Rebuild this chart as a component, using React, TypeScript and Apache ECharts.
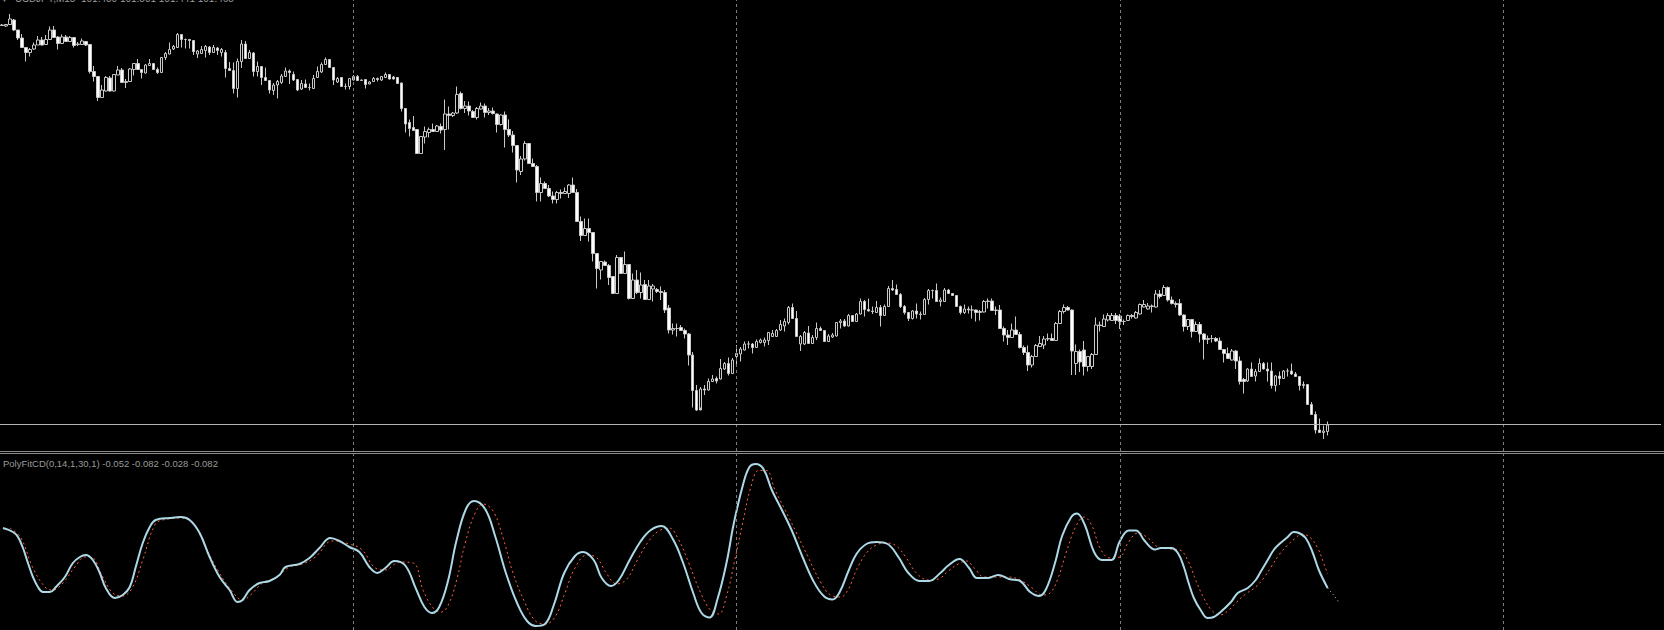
import React, { useEffect, useRef } from 'react';
import * as echarts from 'echarts';

// USDJPY M15 candles (open, close, low, high)
const opens = [
103.4625,103.46,103.4675,103.49,103.44,103.40,103.3525,103.3275,103.345,103.365,
103.39,103.3675,103.3925,103.44,103.405,103.3725,103.405,103.3825,103.4025,103.3675,
103.3675,103.3825,103.3675,103.2325,103.2075,103.1025,103.135,103.20,103.135,103.215,
103.24,103.1775,103.1825,103.2425,103.2725,103.2425,103.225,103.2625,103.2725,103.2425,
103.2275,103.3025,103.32,103.345,103.3525,103.4175,103.3925,103.3925,103.3875,103.32,
103.3225,103.3375,103.355,103.3275,103.35,103.3275,103.3275,103.2475,103.2375,103.1475,
103.2825,103.37,103.2975,103.325,103.2325,103.2575,103.2025,103.1875,103.1375,103.165,
103.1775,103.2075,103.235,103.2175,103.1925,103.145,103.17,103.1525,103.1475,103.2025,
103.23,103.2675,103.2925,103.2525,103.18,103.2025,103.1575,103.1575,103.19,103.2075,
103.1875,103.1925,103.17,103.1825,103.1975,103.19,103.2025,103.2175,103.205,103.2025,
103.175,103.0475,102.9775,102.9525,102.9425,102.8225,102.905,102.9275,102.9425,102.9325,
102.9575,102.9425,103.02,103.0125,103.025,103.1225,103.0475,103.06,103.0325,103.0025,
103.045,103.06,103.0275,103.035,103.02,102.9675,103.015,102.9425,102.915,102.8625,
102.7325,102.795,102.8725,102.7725,102.7575,102.6275,102.6725,102.6475,102.61,102.5925,
102.6275,102.6225,102.6225,102.665,102.6275,102.4825,102.4125,102.4475,102.4275,102.3225,
102.24,102.28,102.2625,102.2075,102.1225,102.3025,102.2225,102.2675,102.0975,102.19,
102.1275,102.1675,102.0925,102.145,102.1425,102.1325,102.1275,102.05,101.94,101.9475,
101.9525,101.9375,101.92,101.815,101.6375,101.54,101.645,101.64,101.6825,101.6975,
101.695,101.745,101.7725,101.7225,101.8075,101.82,101.84,101.87,101.87,101.8525,
101.8775,101.8775,101.8875,101.9075,101.9075,101.94,101.96,101.9775,102.0525,101.9975,
101.87,101.87,101.925,101.8725,101.9025,101.9475,101.9375,101.8825,101.905,101.91,
101.9775,101.985,101.96,102.0125,101.9825,102.02,102.0825,102.0425,102.035,102.0275,
102.0525,102.0125,102.0575,102.1475,102.1425,102.1175,102.0575,102.0275,101.9975,102.035,
102.02,102.0175,102.0925,102.1375,102.1375,102.0825,102.0825,102.14,102.1225,102.1125,
102.0575,102.0275,102.045,102.04,102.04,102.0275,102.03,102.0825,102.085,102.0375,
102.04,101.9475,101.915,101.9025,101.94,101.9175,101.8525,101.8275,101.765,101.8075,
101.8575,101.865,101.895,101.8975,101.8875,101.9725,102.0325,102.0525,102.04,101.7725,
101.8325,101.84,101.7575,101.7575,101.8175,101.965,101.9575,101.99,101.9875,102.0125,
102.01,101.9825,101.9875,102.0125,102.00,102.02,102.055,102.045,102.06,102.055,
102.12,102.1125,102.1525,102.09,102.0725,102.0725,102.015,101.9575,101.9925,101.9325,
101.9675,101.92,101.8925,101.8975,101.8975,101.885,101.8425,101.8225,101.79,101.835,
101.785,101.6925,101.685,101.745,101.71,101.7325,101.7725,101.745,101.735,101.6625,
101.71,101.6975,101.735,101.735,101.72,101.7075,101.6625,101.6675,101.5675,101.5175,
101.44,101.4275,101.4325,
];

const closes = [
103.465,103.4675,103.495,103.44,103.40,103.3525,103.3275,103.3425,103.365,103.39,
103.365,103.3925,103.44,103.4025,103.3725,103.405,103.3825,103.4025,103.3625,103.37,
103.385,103.365,103.2325,103.2075,103.1025,103.14,103.2025,103.135,103.2175,103.24,
103.1775,103.1825,103.245,103.2725,103.2425,103.2275,103.265,103.2725,103.2425,103.2275,
103.3025,103.3225,103.3425,103.3575,103.4175,103.3925,103.3925,103.3875,103.3325,103.335,
103.3425,103.3575,103.3275,103.3525,103.3375,103.3425,103.2475,103.2375,103.1475,103.2825,
103.37,103.2975,103.3275,103.2325,103.2575,103.2025,103.1875,103.14,103.165,103.1825,
103.21,103.235,103.2275,103.19,103.14,103.1725,103.1525,103.1525,103.1975,103.2325,
103.2675,103.2925,103.2525,103.19,103.1975,103.1575,103.1575,103.1975,103.2075,103.1875,
103.19,103.1675,103.18,103.1975,103.1925,103.2075,103.2175,103.195,103.195,103.1725,
103.0475,102.97,102.9475,102.9375,102.8225,102.9075,102.9325,102.9425,102.9325,102.96,
102.94,103.02,103.0125,103.025,103.1175,103.0475,103.06,103.035,103.0025,103.0475,
103.06,103.0275,103.035,103.0225,102.9675,103.015,102.9425,102.915,102.8625,102.74,
102.795,102.8725,102.7725,102.7575,102.6275,102.6725,102.6475,102.61,102.5925,102.6275,
102.6225,102.6325,102.665,102.6275,102.4825,102.4125,102.4475,102.4275,102.3225,102.2475,
102.2825,102.2625,102.2025,102.1225,102.3025,102.2225,102.2675,102.0975,102.19,102.1275,
102.165,102.0925,102.16,102.16,102.1325,102.1275,102.04,101.94,101.9475,101.9475,
101.9375,101.92,101.815,101.6375,101.54,101.645,101.64,101.6825,101.695,101.685,
101.7475,101.7725,101.7225,101.79,101.8225,101.845,101.87,101.87,101.8525,101.8825,
101.89,101.89,101.9275,101.9225,101.9375,101.9675,101.9825,102.0525,101.9975,101.9075,
101.9075,101.9275,101.8725,101.9025,101.9475,101.9375,101.8825,101.91,101.915,101.9775,
101.985,101.96,102.0125,101.9825,102.02,102.0825,102.0425,102.035,102.0325,102.0525,
102.0125,102.0575,102.1475,102.14,102.1175,102.0575,102.0275,101.9975,102.035,102.02,
102.0175,102.0925,102.1375,102.1375,102.0825,102.09,102.14,102.1225,102.1125,102.0575,
102.0275,102.045,102.04,102.04,102.0275,102.0325,102.0825,102.085,102.0375,102.04,
101.9475,101.915,101.9025,101.94,101.9175,101.8525,101.8275,101.765,101.8075,101.8625,
101.8725,101.895,101.8975,101.8875,101.9725,102.0325,102.0525,102.04,101.835,101.8325,
101.78,101.7575,101.8075,101.8175,101.965,101.9625,101.995,102.0125,102.0125,101.9875,
101.9825,101.9825,102.0125,102.0075,102.0275,102.0675,102.0675,102.06,102.0575,102.12,
102.1075,102.1525,102.09,102.0725,102.0675,102.015,101.9575,101.9925,101.9325,101.9675,
101.92,101.8925,101.8975,101.8975,101.885,101.8425,101.8225,101.7975,101.835,101.785,
101.6825,101.6825,101.745,101.7075,101.7325,101.7725,101.745,101.735,101.6625,101.71,
101.6975,101.735,101.735,101.72,101.7075,101.6625,101.6675,101.5675,101.5175,101.44,
101.4275,101.435,101.465,
];

const lows = [
103.46,103.455,103.4675,103.435,103.39,103.35,103.2825,103.3075,103.34,103.365,
103.3625,103.365,103.39,103.40,103.3425,103.37,103.38,103.38,103.3525,103.36,
103.3675,103.36,103.2225,103.1825,103.085,103.10,103.1325,103.1325,103.1325,103.215,
103.175,103.15,103.18,103.2125,103.24,103.1975,103.2225,103.26,103.24,103.22,
103.225,103.29,103.3175,103.34,103.35,103.3525,103.3475,103.3475,103.315,103.30,
103.3225,103.3025,103.315,103.325,103.315,103.3075,103.2025,103.235,103.1225,103.1025,
103.25,103.295,103.295,103.2075,103.2075,103.165,103.185,103.1225,103.115,103.0975,
103.17,103.205,103.17,103.185,103.135,103.14,103.15,103.1375,103.145,103.20,
103.225,103.265,103.25,103.165,103.175,103.155,103.1425,103.1425,103.1875,103.185,
103.185,103.1475,103.17,103.18,103.1825,103.185,103.20,103.1925,103.1925,103.17,
103.0325,102.9275,102.9075,102.935,102.82,102.82,102.8725,102.9025,102.93,102.93,
102.9225,102.84,102.9425,103.005,103.02,103.0425,103.025,103.0125,103.00,102.9925,
103.0425,103.0025,103.015,103.0175,102.9275,102.9625,102.8525,102.905,102.8275,102.6775,
102.715,102.7875,102.77,102.755,102.5825,102.5825,102.645,102.605,102.5725,102.5725,
102.5975,102.62,102.60,102.625,102.48,102.385,102.41,102.3825,102.2825,102.1475,
102.1925,102.26,102.165,102.12,102.12,102.22,102.22,102.0925,102.095,102.12,
102.0975,102.09,102.09,102.0825,102.125,102.09,102.025,101.9225,101.9175,101.9075,
101.935,101.8975,101.7625,101.5525,101.535,101.5525,101.615,101.6375,101.68,101.6725,
101.6925,101.74,101.7125,101.72,101.765,101.7825,101.8375,101.8475,101.8225,101.85,
101.8725,101.8575,101.865,101.905,101.905,101.935,101.9325,101.9675,101.995,101.905,
101.835,101.865,101.87,101.87,101.89,101.935,101.88,101.88,101.90,101.9075,
101.9475,101.955,101.9575,101.98,101.98,102.0175,102.0075,102.0325,102.02,102.025,
101.9575,102.01,102.055,102.135,102.115,102.05,102.0175,101.985,101.9925,101.9975,
101.9925,102.015,102.0675,102.0975,102.08,102.0575,102.08,102.12,102.11,102.055,
102.0175,102.02,102.0225,101.9975,101.9825,101.9875,102.0275,102.0475,102.035,102.015,
101.945,101.8825,101.865,101.90,101.915,101.8475,101.815,101.735,101.7525,101.805,
101.855,101.845,101.885,101.885,101.885,101.97,102.0225,102.0375,101.715,101.715,
101.73,101.7125,101.7325,101.745,101.815,101.9325,101.955,101.9825,101.985,101.97,
101.945,101.965,101.985,101.9975,101.9975,102.0175,102.0525,102.0425,102.0275,102.0525,
102.0975,102.11,102.0825,102.0675,102.0525,102.01,101.9325,101.94,101.9025,101.93,
101.8775,101.7925,101.87,101.8775,101.88,101.84,101.7775,101.795,101.7875,101.745,
101.6675,101.6225,101.68,101.705,101.6825,101.73,101.7425,101.6825,101.6475,101.6325,
101.665,101.695,101.7075,101.715,101.705,101.6375,101.6475,101.565,101.515,101.4225,
101.425,101.395,101.4125,
];

const highs = [
103.47,103.47,103.52,103.495,103.44,103.42,103.355,103.35,103.3775,103.41,
103.405,103.415,103.4575,103.46,103.41,103.4175,103.415,103.41,103.405,103.38,
103.3975,103.385,103.37,103.26,103.21,103.165,103.21,103.21,103.22,103.26,
103.25,103.195,103.25,103.275,103.295,103.245,103.27,103.295,103.275,103.2525,
103.305,103.33,103.3775,103.365,103.425,103.42,103.3975,103.3925,103.39,103.34,
103.36,103.365,103.36,103.365,103.355,103.35,103.34,103.28,103.2775,103.2975,
103.39,103.385,103.34,103.33,103.2825,103.26,103.2525,103.19,103.175,103.19,
103.22,103.2525,103.2425,103.2325,103.195,103.19,103.1925,103.1725,103.215,103.2575,
103.2775,103.3025,103.295,103.255,103.205,103.205,103.1725,103.20,103.215,103.215,
103.1925,103.195,103.185,103.205,103.2025,103.21,103.2275,103.22,103.21,103.205,
103.1775,103.05,102.9925,103.01,102.945,102.91,102.9575,102.9525,102.9725,102.965,
102.9725,103.0925,103.0575,103.03,103.1575,103.1325,103.085,103.0825,103.04,103.055,
103.0775,103.0725,103.05,103.0525,103.0225,103.0175,103.0325,102.9925,102.935,102.865,
102.81,102.885,102.875,102.7975,102.765,102.7025,102.6825,102.665,102.6325,102.635,
102.6425,102.6525,102.67,102.7025,102.645,102.5075,102.4975,102.4975,102.43,102.325,
102.285,102.2875,102.27,102.21,102.315,102.305,102.3325,102.27,102.2225,102.24,
102.2275,102.19,102.19,102.17,102.15,102.1575,102.14,102.065,101.9725,101.9725,
101.965,101.9475,101.925,101.83,101.665,101.655,101.665,101.6975,101.715,101.7075,
101.795,101.78,101.8025,101.80,101.865,101.855,101.8825,101.885,101.875,101.8925,
101.8975,101.9025,101.93,101.94,101.945,101.99,101.9975,102.06,102.0725,102.035,
101.915,101.935,101.96,101.915,101.9775,101.9575,101.94,101.92,101.925,101.98,
101.995,101.995,102.02,102.015,102.025,102.0975,102.09,102.0975,102.0575,102.085,
102.065,102.0675,102.16,102.19,102.1675,102.125,102.065,102.03,102.04,102.0725,
102.0325,102.10,102.145,102.1425,102.1725,102.1025,102.15,102.145,102.125,102.115,
102.0625,102.0675,102.0575,102.0625,102.0425,102.04,102.09,102.0975,102.0975,102.0575,
102.065,101.9575,101.94,101.9725,102.0075,101.93,101.8625,101.8625,101.815,101.87,
101.91,101.91,101.9225,101.9225,101.98,102.04,102.0675,102.06,102.0425,101.8675,
101.8425,101.885,101.81,101.825,102.0025,101.9825,102.0175,102.025,102.025,102.025,
102.02,101.9925,102.0175,102.02,102.035,102.0725,102.09,102.075,102.0675,102.14,
102.14,102.165,102.1575,102.1075,102.0825,102.095,102.0175,101.995,101.995,101.9825,
101.98,101.925,101.9125,101.915,101.905,101.9025,101.845,101.8525,101.845,101.84,
101.8075,101.70,101.75,101.7775,101.745,101.7975,101.78,101.7775,101.7775,101.715,
101.7325,101.74,101.7475,101.7725,101.73,101.71,101.6825,101.67,101.58,101.5325,
101.4975,101.4625,101.4825,
];

// PolyFitCD indicator: main line (light blue) read at bar positions
const blueIdx = [
0.25,2.75,4,5.25,6.5,7.75,9,10.25,12,13.5,15.75,17.75,19.5,21,22.75,24.5,26,28.25,30.25,32,
33.5,35.25,37,38.5,42,44.75,47,49.5,52,54.5,57,59,60.25,62,64.5,67,69.5,71,74.5,77,
79.5,82.25,84.5,87,89.5,92,94,96,98.25,101,103.7,105.8,107.7,109.5,111.7,113.8,116.2,118.2,121,123.5,
126.2,129,131.5,133.7,136,138.2,140.8,143.5,145.5,148.2,150.2,152.5,154.5,157.2,160,162.5,165.2,168,170.5,173.2,
175.2,177.2,179.2,181.5,183.2,185.5,187.2,188.8,190.7,192.8,195.2,197.8,200.5,203.2,205.8,208,209.8,212,214,216.5,
219,221.8,224.5,227,229.8,232.2,235,237,239.8,242.2,244.2,247,249.5,252.2,255,257.5,259.8,261.5,263.8,265.5,
267.8,269.2,271.2,273.5,275.5,277.8,280,282.2,284,286.2,288.8,290.2,292.8,294.5,296,297.2,298.5,300.2,302,303.5,
305.2,307.8,309.5,312,314,315.2,317,318.5,320.2,322,323.5,324.8,326.5,328.2,329.8,332,
];
const blueVal = [
0.040,0.032,0.022,0,-0.030,-0.058,-0.078,-0.088,-0.088,-0.078,-0.058,-0.030,-0.018,-0.014,-0.024,-0.050,-0.080,-0.100,-0.094,-0.078,
-0.038,0.010,0.042,0.056,0.060,0.062,0.056,0.030,-0.018,-0.058,-0.084,-0.108,-0.104,-0.084,-0.070,-0.066,-0.054,-0.038,-0.032,-0.020,
0,0.020,0.014,0.002,-0.008,-0.038,-0.050,-0.040,-0.026,-0.035,-0.082,-0.118,-0.130,-0.118,-0.066,0.014,0.078,0.094,0.078,0.024,
-0.050,-0.110,-0.146,-0.156,-0.152,-0.114,-0.050,-0.016,-0.008,-0.024,-0.060,-0.076,-0.064,-0.024,0.014,0.036,0.044,0.018,-0.028,-0.092,
-0.130,-0.139,-0.102,-0.028,0.046,0.124,0.162,0.168,0.158,0.116,0.078,0.035,-0.018,-0.066,-0.096,-0.103,-0.088,-0.046,-0.012,0.008,
0.012,0.008,-0.018,-0.050,-0.066,-0.066,-0.050,-0.035,-0.022,-0.040,-0.060,-0.060,-0.054,-0.062,-0.066,-0.088,-0.096,-0.082,-0.028,0.024,
0.062,0.069,0.046,-0.008,-0.024,-0.024,0.014,0.035,0.035,0.014,-0.003,0,0,-0.010,-0.038,-0.070,-0.100,-0.124,-0.140,-0.138,
-0.128,-0.108,-0.090,-0.080,-0.064,-0.048,-0.024,-0.004,0.010,0.022,0.032,0.030,0.020,-0.008,-0.044,-0.080,
];
// thin projected tail of the main line
const tailIdx = [332, 333.5, 334.8];
const tailVal = [-0.080, -0.094, -0.108];

// PolyFitCD signal line (red, dotted)
const redIdx = [
2,4.75,7.75,11,12.75,15.25,18.25,20.75,22.25,25.25,27.75,30.25,32.75,35.25,38.25,40.25,45.75,48.25,51,54,
57.75,60.25,62.25,65.25,68.5,72,75.25,78.5,82.75,87,90.25,93.5,96,99.5,103,105.5,108,110,112,114,
116,118.5,120.5,123,125.5,128,131,133.5,136,138.5,141,143.5,146.5,149,151.5,154,156.5,159,162,164.5,
167,169.5,172,175,177.5,179.5,181.5,183.5,185.5,187.5,189.5,191.5,193.5,196,199,202,205,207.5,210,212,
214,216.5,219,221.5,224,226.5,229,232,234.5,237,239.5,241.5,243.5,246,249,252,255,258,260.5,262.5,
264.5,266.5,269,271,273,275,277.5,280,282,284.5,287,289.5,292.5,295,297,299,301,303,305,307,
309,311.5,314,316,318,320,322,324,325.5,327.5,329.5,331,332,
];
const redVal = [
0.040,0.020,-0.040,-0.080,-0.084,-0.070,-0.038,-0.018,-0.018,-0.058,-0.090,-0.096,-0.078,-0.024,0.046,0.056,0.060,0.046,0.002,-0.044,
-0.088,-0.104,-0.094,-0.070,-0.060,-0.038,-0.032,-0.018,0.014,0.008,-0.004,-0.040,-0.044,-0.028,-0.030,-0.085,-0.120,-0.128,-0.110,-0.060,
0.010,0.070,0.088,0.074,0.020,-0.050,-0.110,-0.145,-0.152,-0.138,-0.090,-0.040,-0.014,-0.020,-0.052,-0.072,-0.062,-0.026,0.014,0.034,
0.040,0.016,-0.030,-0.090,-0.125,-0.132,-0.095,-0.025,0.050,0.120,0.155,0.155,0.118,0.078,0.030,-0.020,-0.068,-0.094,-0.098,-0.082,
-0.044,-0.010,0.006,0.010,0.004,-0.020,-0.050,-0.064,-0.062,-0.046,-0.032,-0.026,-0.040,-0.058,-0.058,-0.058,-0.064,-0.080,-0.094,-0.090,
-0.060,-0.010,0.044,0.062,0.044,0.000,-0.020,-0.018,0.010,0.030,0.020,0.002,-0.002,-0.004,-0.025,-0.065,-0.100,-0.125,-0.134,-0.126,
-0.110,-0.092,-0.078,-0.060,-0.036,-0.012,0.006,0.020,0.028,0.022,0.000,-0.030,-0.052,
];

const daySeparators = ['88', '184', '280', '376'];
const bidPrice = 101.465;
const headerMark = '\u25BC';
const headerText = 'USDJPY,M15  101.450 101.501 101.441 101.465';
const indicatorLabel = 'PolyFitCD(0,14,1,30,1) -0.052 -0.082 -0.028 -0.082';
const SLOTS = 416;

export default function App() {
  const ref = useRef<HTMLDivElement>(null);
  useEffect(() => {
    const chart = echarts.init(ref.current as HTMLDivElement, null, { renderer: 'svg' });
    const candles = opens.map((o, i) => [o, closes[i], lows[i], highs[i]]);
    const cats = Array.from({ length: SLOTS }, (_, i) => String(i));
    const blue = blueIdx.map((x, i) => [x, blueVal[i]]);
    const tail = tailIdx.map((x, i) => [x, tailVal[i]]);
    const red = redIdx.map((x, i) => [x, redVal[i]]);
    const sepStyle = { type: [3, 3], color: '#7c7c7c', width: 1 };
    chart.setOption({
      animation: false,
      backgroundColor: '#000000',
      grid: [
        { left: -3, top: 0, width: 1664, height: 451 },
        { left: -3, top: 454, width: 1664, height: 176 },
      ],
      xAxis: [
        { type: 'category', gridIndex: 0, data: cats, boundaryGap: true, show: false },
        { type: 'value', gridIndex: 1, min: -0.5, max: 415.5, show: false },
      ],
      yAxis: [
        { type: 'value', gridIndex: 0, min: 101.335, max: 103.59, show: false, scale: true },
        { type: 'value', gridIndex: 1, min: -0.164, max: 0.188, show: false },
      ],
      series: [
        {
          type: 'candlestick',
          xAxisIndex: 0,
          yAxisIndex: 0,
          data: candles,
          barWidth: 3,
          itemStyle: {
            color: '#000000',
            color0: '#ffffff',
            borderColor: '#c8c8c8',
            borderColor0: '#c8c8c8',
            borderWidth: 1,
          },
          markLine: {
            silent: true,
            symbol: ['none', 'none'],
            label: { show: false },
            data: [
              ...daySeparators.map((d) => ({ xAxis: d, lineStyle: sepStyle })),
              { yAxis: bidPrice, lineStyle: { type: 'solid', color: '#b4b4b4', width: 1 } },
            ],
          },
        },
        {
          type: 'line',
          xAxisIndex: 1,
          yAxisIndex: 1,
          data: red,
          smooth: 0.4,
          showSymbol: false,
          lineStyle: { color: '#ff5f3f', width: 1, type: [2, 3] },
          z: 2,
          markLine: {
            silent: true,
            symbol: ['none', 'none'],
            label: { show: false },
            data: daySeparators.map((d) => ({ xAxis: Number(d), lineStyle: sepStyle })),
          },
        },
        {
          type: 'line',
          xAxisIndex: 1,
          yAxisIndex: 1,
          data: blue,
          smooth: 0.4,
          showSymbol: false,
          lineStyle: { color: '#add8e6', width: 2 },
          z: 3,
        },
        {
          type: 'line',
          xAxisIndex: 1,
          yAxisIndex: 1,
          data: tail,
          showSymbol: false,
          lineStyle: { color: '#add8e6', width: 1, type: [1, 3] },
          z: 3,
        },
      ],
      graphic: [
        { type: 'line', shape: { x1: 0, y1: 451.5, x2: 1664, y2: 451.5 }, style: { stroke: '#8c8c8c', lineWidth: 1 } },
        { type: 'line', shape: { x1: 0, y1: 453.5, x2: 1664, y2: 453.5 }, style: { stroke: '#8c8c8c', lineWidth: 1 } },
        {
          type: 'text', x: 1, y: -7,
          style: { text: headerMark, fill: '#9a9a9a', fontSize: 9, fontFamily: 'DejaVu Sans', verticalAlign: 'top' },
        },
        {
          type: 'text', x: 15, y: -7,
          style: { text: headerText, fill: '#9a9a9a', fontSize: 10, fontFamily: 'Liberation Sans', verticalAlign: 'top' },
        },
        {
          type: 'text', x: 3, y: 458,
          style: { text: indicatorLabel, fill: '#9a9a9a', fontSize: 9.5, fontFamily: 'Liberation Sans', verticalAlign: 'top' },
        },
      ],
    });
    return () => chart.dispose();
  }, []);
  return (
    <div
      ref={ref}
      style={{ position: 'fixed', left: 0, top: 0, width: 1664, height: 630, background: '#000' }}
    />
  );
}
